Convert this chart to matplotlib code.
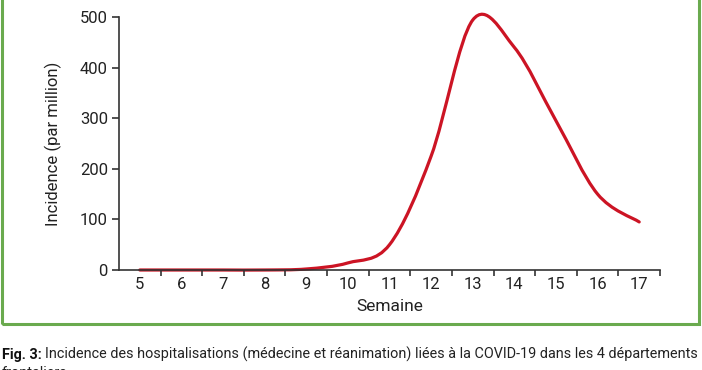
import matplotlib
matplotlib.use("Agg")
import matplotlib.pyplot as plt
from matplotlib.path import Path
from matplotlib.patches import PathPatch, Rectangle
import numpy as np

plt.rcParams['font.family'] = ['Roboto', 'DejaVu Sans']

weeks = [5, 6, 7, 8, 9, 10, 11, 12, 13, 14, 15, 16, 17]
incidence = [0, 0, 0, 0, 2, 14, 50, 225, 494, 440, 295, 150, 95]
week_labels = [str(w) for w in weeks]
yticks = [0, 100, 200, 300, 400, 500]

W, H = 702, 370
fig = plt.figure(figsize=(W / 100, H / 100), dpi=100)

# green frame
fig.patches.append(Rectangle((1.5 / W, 1 - 324 / H), (698.5 - 1.5) / W, 330 / H,
                             transform=fig.transFigure, fill=False,
                             edgecolor='#6aaa4e', linewidth=2.2))

ax = fig.add_axes([119 / W, 1 - 270 / H, (660 - 119) / W, (270 - 17) / H])

# smoothed line (Excel-style Bezier through the data points)
x = np.array(weeks, float)
y = np.array(incidence, float)
verts = [(x[0], y[0])]
codes = [Path.MOVETO]
n = len(x)
for i in range(n - 1):
    p0 = np.array([x[max(i - 1, 0)], y[max(i - 1, 0)]])
    p1 = np.array([x[i], y[i]])
    p2 = np.array([x[i + 1], y[i + 1]])
    p3 = np.array([x[min(i + 2, n - 1)], y[min(i + 2, n - 1)]])
    c1 = p1 + (p2 - p0) / 6
    c2 = p2 - (p3 - p1) / 6
    verts += [tuple(c1), tuple(c2), tuple(p2)]
    codes += [Path.CURVE4] * 3
ax.add_patch(PathPatch(Path(verts, codes), fill=False, edgecolor='#cc1424',
                       linewidth=2.3, capstyle='round', joinstyle='round',
                       clip_on=False))

ax.set_xlim(4.5, 17.5)
ax.set_ylim(0, 500)
ax.spines['top'].set_visible(False)
ax.spines['right'].set_visible(False)
for s in ('left', 'bottom'):
    ax.spines[s].set_color('#333333')
    ax.spines[s].set_linewidth(1.2)

ax.set_yticks(yticks)
ax.set_yticklabels([str(v) for v in yticks])
ax.set_xticks(weeks)
ax.set_xticklabels(week_labels)
ax.set_xticks(np.arange(5.5, 17.6, 1.0), minor=True)
ax.tick_params(axis='x', which='major', length=0, pad=5, labelsize=12, colors='#222222')
ax.tick_params(axis='x', which='minor', length=4, width=1.2, direction='out', color='#333333')
ax.tick_params(axis='y', length=5, width=1.2, direction='out', color='#333333',
               labelsize=12, labelcolor='#222222', pad=3)

ax.set_xlabel('Semaine', fontsize=12.5, color='#222222', labelpad=5)
ax.set_ylabel('Incidence (par million)', fontsize=12, color='#222222', labelpad=13)

# caption
fs = 10.4
t1 = fig.text(2 / W, 1 - 359 / H, 'Fig. 3:', fontsize=fs, fontweight='bold', color='#111111')
fig.canvas.draw()
bb = t1.get_window_extent()
fig.text((bb.x1 + 3) / W, 1 - 359 / H,
         'Incidence des hospitalisations (médecine et réanimation) liées à la COVID-19 dans les 4 départements',
         fontsize=fs, color='#222222')
fig.text(2 / W, 1 - 377 / H, 'frontaliers', fontsize=fs, color='#222222')

fig.savefig('out.png', dpi=100)
